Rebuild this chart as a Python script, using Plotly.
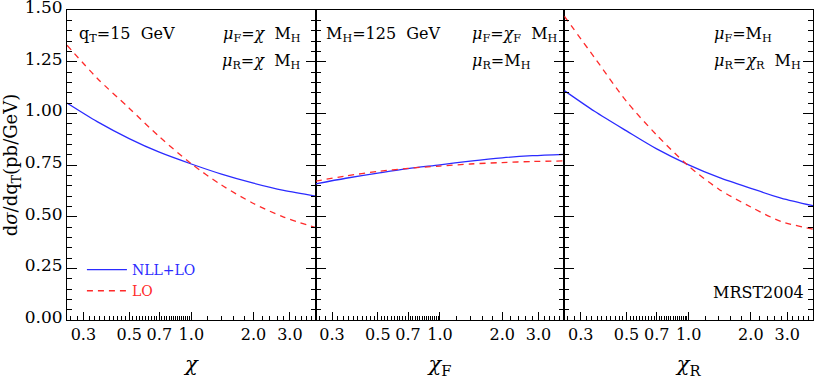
import plotly.graph_objects as go
from plotly.subplots import make_subplots

# scale factor chi (x axis, log) at which the curves were read
chi = [0.25, 0.35, 0.5, 0.7, 1.0, 1.4, 2.0, 2.8, 4.0]

# panel 1: mu_F = mu_R = chi M_H
nll_lo_1 = [1.05, 0.96, 0.878, 0.812, 0.755, 0.706, 0.662, 0.627, 0.60]
lo_1 = [1.33, 1.17, 1.025, 0.887, 0.756, 0.653, 0.564, 0.498, 0.447]
# panel 2: mu_F = chi_F M_H, mu_R = M_H
nll_lo_2 = [0.659, 0.686, 0.711, 0.733, 0.751, 0.769, 0.785, 0.795, 0.802]
lo_2 = [0.672, 0.697, 0.719, 0.734, 0.745, 0.755, 0.762, 0.767, 0.770]
# panel 3: mu_F = M_H, mu_R = chi_R M_H
nll_lo_3 = [1.11, 1.01, 0.915, 0.828, 0.751, 0.69, 0.637, 0.59, 0.553]
lo_3 = [1.47, 1.27, 1.058, 0.895, 0.745, 0.633, 0.547, 0.477, 0.44]

x_titles = ["<i>χ</i>", "<i>χ</i><sub>F</sub>", "<i>χ</i><sub>R</sub>"]
major_x = [0.3, 0.4, 0.5, 0.6, 0.7, 0.8, 0.9, 1.0, 2.0, 3.0, 4.0]
major_x_text = ["0.3", "", "0.5", "", "0.7", "", "", "1.0", "2.0", "3.0", ""]
minor_x = [round(0.24 + 0.02 * i, 2) for i in range(39)] + [round(1.2 + 0.2 * i, 1) for i in range(15)]
y_ticks = [0, 0.25, 0.5, 0.75, 1.0, 1.25, 1.5]

FONT = "DejaVu Serif"
BLUE = "#2b2bff"
RED = "#ff2a2a"

fig = make_subplots(rows=1, cols=3, shared_yaxes=True, horizontal_spacing=0)

panels = [(nll_lo_1, lo_1), (nll_lo_2, lo_2), (nll_lo_3, lo_3)]
for i, (nll, lo) in enumerate(panels):
    first = i == 0
    fig.add_trace(go.Scatter(x=chi, y=nll, mode="lines",
                             line=dict(color=BLUE, width=1.3, shape="spline", smoothing=0.8),
                             name="<span style='color:%s'>NLL+LO</span>" % BLUE, showlegend=first),
                  row=1, col=i + 1)
    fig.add_trace(go.Scatter(x=chi, y=lo, mode="lines",
                             line=dict(color=RED, width=1.3, dash="6px,5px", shape="spline", smoothing=0.8),
                             name="<span style='color:%s'>LO</span>" % RED, showlegend=first),
                  row=1, col=i + 1)
    fig.update_xaxes(type="log", range=[-0.60206, 0.60206], showline=True, linecolor="black", linewidth=1.1,
                     mirror=True, ticks="inside", ticklen=8, tickcolor="black", tickwidth=1,
                     tickmode="array", tickvals=major_x, ticktext=major_x_text,
                     minor=dict(tickmode="array", tickvals=minor_x, ticks="inside", ticklen=4, tickcolor="black"),
                     showgrid=False, zeroline=False, automargin=False,
                     tickfont=dict(family=FONT, size=16, color="black"),
                     title=dict(text=x_titles[i], font=dict(family=FONT, size=21, color="black"), standoff=13),
                     row=1, col=i + 1)
    fig.update_yaxes(range=[0, 1.5002], showline=True, linecolor="black", linewidth=1.1, mirror="ticks",
                     ticks="inside", ticklen=10, tickcolor="black", tickwidth=1,
                     tickmode="array", tickvals=y_ticks,
                     minor=dict(dtick=0.05, ticks="inside", ticklen=5, tickcolor="black"),
                     showgrid=False, zeroline=False, showticklabels=first, automargin=False,
                     row=1, col=i + 1)

fig.update_yaxes(tickformat=".2f", tickfont=dict(family=FONT, size=17, color="black"),
                 ticklabeloverflow="allow", ticklabelshift=-3,
                 title=dict(text="d<i>σ</i>/dq<sub>T</sub>(pb/GeV)", font=dict(family=FONT, size=18, color="black"),
                            standoff=6),
                 row=1, col=1)

ann = dict(showarrow=False, font=dict(family=FONT, size=16, color="black"), xref="paper", yref="paper")
labels = [
    ("q<sub>T</sub>=15  GeV", 0.013, 0.96, "left"),
    ("<i>μ</i><sub>F</sub>=<i>χ</i>  M<sub>H</sub>", 0.316, 0.96, "right"),
    ("<i>μ</i><sub>R</sub>=<i>χ</i>  M<sub>H</sub>", 0.316, 0.875, "right"),
    ("M<sub>H</sub>=125  GeV", 0.344, 0.96, "left"),
    ("<i>μ</i><sub>F</sub>=<i>χ</i><sub>F</sub>  M<sub>H</sub>", 0.540, 0.96, "left"),
    ("<i>μ</i><sub>R</sub>=M<sub>H</sub>", 0.540, 0.875, "left"),
    ("<i>μ</i><sub>F</sub>=M<sub>H</sub>", 0.865, 0.96, "left"),
    ("<i>μ</i><sub>R</sub>=<i>χ</i><sub>R</sub>  M<sub>H</sub>", 0.865, 0.875, "left"),
]
for text, x, y, anchor in labels:
    fig.add_annotation(text=text, x=x, y=y, xanchor=anchor, yanchor="top", **ann)
fig.add_annotation(text="MRST2004", x=0.99, y=0.09, xanchor="right", yanchor="middle", **ann)

fig.update_layout(
    width=817, height=380,
    margin=dict(l=67, r=4, t=10, b=60, autoexpand=False),
    paper_bgcolor="white", plot_bgcolor="white",
    font=dict(family=FONT, color="black"),
    legend=dict(x=0.02, y=0.213, xanchor="left", yanchor="top", bgcolor="rgba(0,0,0,0)",
                font=dict(family=FONT, size=14), tracegroupgap=0, itemwidth=40),
)

# drop the browser's default body margin so the figure sits at the window's corner
fig.write_html("out.html", config={"displayModeBar": False},
               post_script="document.body.style.margin='0';")
